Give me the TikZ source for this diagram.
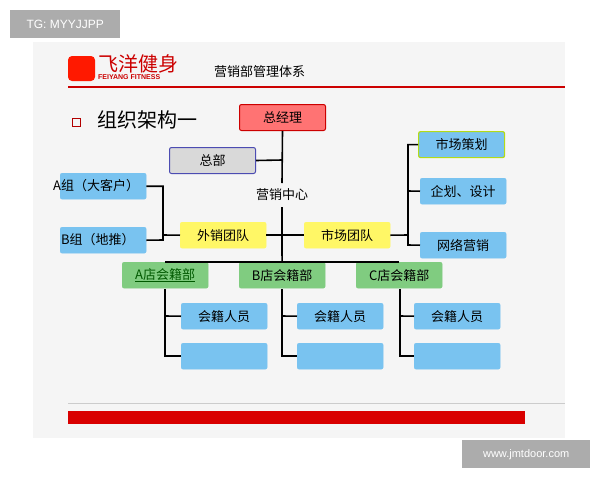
\documentclass[tikz,border=0pt]{standalone}
\usepackage{fontspec}
\setmainfont{Liberation Sans}
\newfontfamily\cjk{Noto Sans CJK SC}
\definecolor{sky}{HTML}{79C3F0}
\begin{document}
\begin{tikzpicture}[x=1pt,y=-1pt,
  bx/.style={rounded corners=2pt,minimum width=86pt,minimum height=26pt,inner sep=0pt,font=\cjk\fontsize{13}{14}\selectfont,anchor=north west},
  blue/.style={bx,fill=sky,draw=sky},
  grn/.style={bx,fill=green!60!black!50,draw=green!60!black!50},
  yel/.style={bx,fill=yellow!60,draw=yellow!60},
  ln/.style={line width=1.6pt}]
\useasboundingbox (0,0) rectangle (600,480);
\fill[white] (0,0) rectangle (600,480);
\fill[gray!8] (33,42) rectangle (565,438);
\node[fill=gray!65,text=white,minimum width=110pt,minimum height=28pt,anchor=north west,font=\fontsize{12}{13}\selectfont] (wm1) at (10,10) {TG: MYYJJPP};
\node[fill=gray!65,text=white,minimum width=128pt,minimum height=28pt,anchor=north west,font=\fontsize{11}{13}\selectfont] (wm2) at (462,440) {www.jmtdoor.com};
% logo
\fill[red!80!orange,rounded corners=4pt] (68,56) rectangle (95,81);
\node[text=red!80!black,font=\cjk\fontsize{20}{20}\selectfont,anchor=west,inner sep=0pt] (logo) at (98,64) {飞洋健身};
\node[text=red!80!black,font=\fontsize{7}{7}\selectfont\bfseries,anchor=west,inner sep=0pt] (logo2) at (98,77) {FEIYANG FITNESS};
\node[font=\cjk\fontsize{13}{14}\selectfont,anchor=west,inner sep=0pt] (title) at (214,72) {营销部管理体系};
\draw[red!80!black,line width=1.5pt] (68,87) -- (565,87);
\draw[red!70!black,line width=1pt] (72,118) rectangle (80,126);
\node[font=\cjk\fontsize{20}{22}\selectfont,anchor=west,inner sep=0pt] (sec) at (97,120) {组织架构一};
% nodes
\node[bx,fill=red!55,draw=red!80!black,line width=1pt] (gm) at (239,104) {总经理};
\node[bx,fill=gray!30,draw=blue!40!gray,line width=1pt] (hq) at (169,147) {总部};
\node[font=\cjk\fontsize{13}{14}\selectfont] (mc) at (282,195) {营销中心};
\node[blue] (ga) at (60,173) {};
\node[font=\cjk\fontsize{13}{14}\selectfont,anchor=west,inner sep=0pt] (gat) at (53,186) {A组（大客户）};
\node[blue] (gb) at (60,227) {};
\node[font=\cjk\fontsize{13}{14}\selectfont,anchor=west,inner sep=0pt] (gbt) at (61,240) {B组（地推）};
\node[yel] (ws) at (180,222) {外销团队};
\node[yel] (sc) at (304,222) {市场团队};
\node[blue,draw=yellow!70!green,line width=1.2pt] (r1) at (418,131) {市场策划};
\node[blue] (r2) at (420,178) {企划、设计};
\node[blue] (r3) at (420,232) {网络营销};
\node[grn,text=green!35!black] (sa) at (122,262) {\underline{A店会籍部}};
\node[grn] (sb) at (239,262) {B店会籍部};
\node[grn] (scc) at (356,262) {C店会籍部};
\foreach \n/\x in {a/181,b/297,c/414}{
  \node[blue] (p\n) at (\x,303) {会籍人员};
  \node[blue] (q\n) at (\x,343) {};
}
% connectors
\draw[ln] (gm.south) -- (282,183);
\draw[ln] (hq.east) -- (282,160);
\draw[ln] (282,207) -- (282,254);
\draw[ln] (ws.east) -- (sc.west);
\draw[ln] (ga.east) -| (163,240) -- (gb.east);
\draw[ln] (163,235) -- (ws.west);
\draw[ln] (sc.east) -- (408,235);
\draw[ln] (r1.west) -| (408,245) -- (r3.west);
\draw[ln] (r2.west) -- (408,191);
\draw[ln] (sa.north) |- (scc.north);
\draw[ln] (sb.north) -- (282,254);
\draw[ln] (165,289) |- (qa.west); \draw[ln] (165,316) -- (pa.west);
\draw[ln] (282,289) |- (qb.west); \draw[ln] (282,316) -- (pb.west);
\draw[ln] (400,289) |- (qc.west); \draw[ln] (400,316) -- (pc.west);
% bottom bar
\draw[gray!40] (68,403) -- (565,403);
\fill[red!85!black] (68,411) rectangle (525,424);
\end{tikzpicture}
\end{document}
